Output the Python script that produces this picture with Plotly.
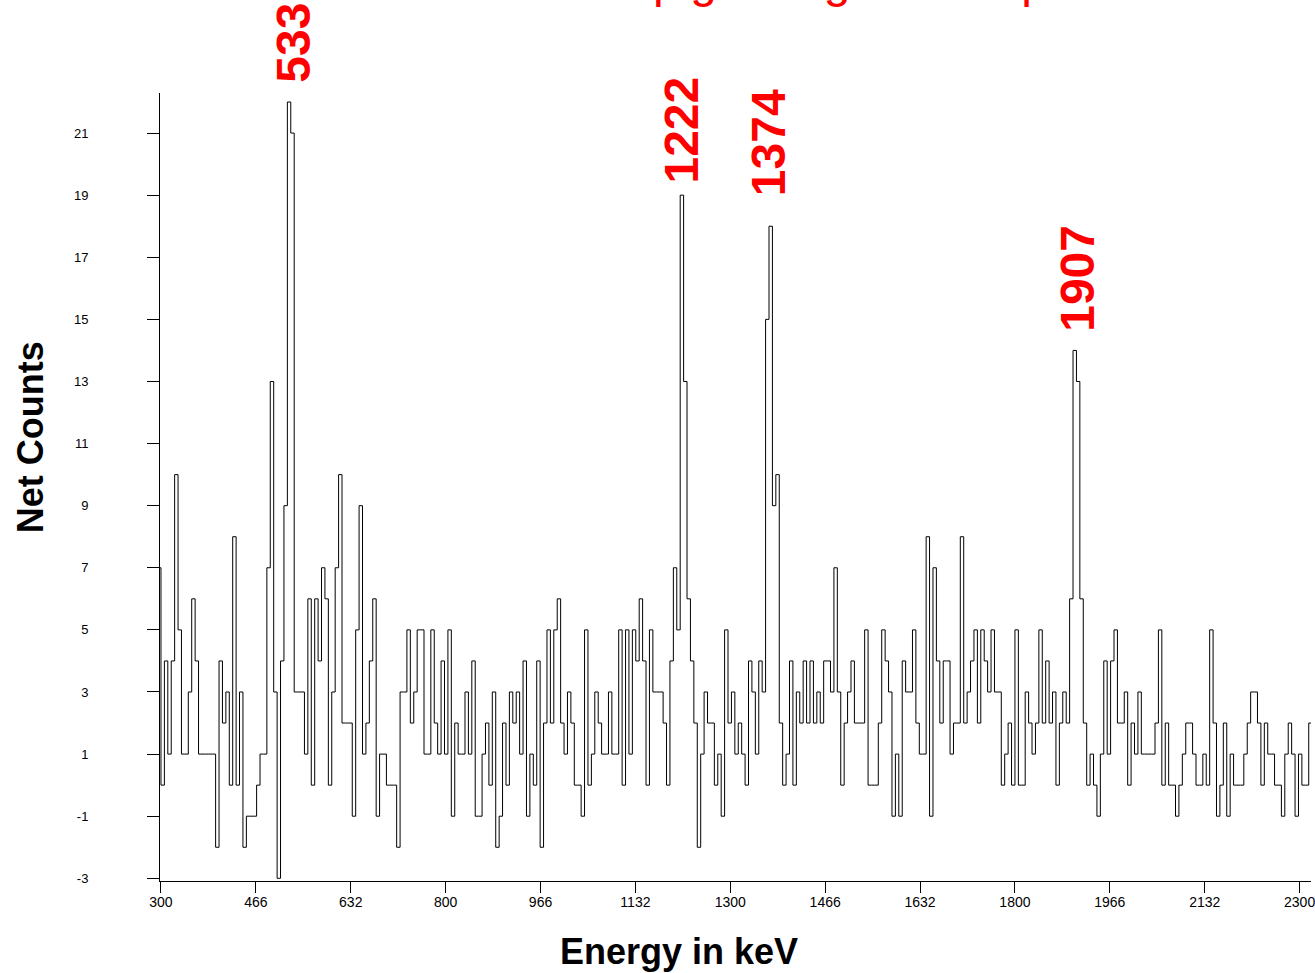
import numpy as np
import plotly.graph_objects as go

# ---------------- data ----------------
bin_width_kev = 6.0
first_bin_kev = 294.0

counts_pre = [7]
counts_300_534 = [0, 4, 1, 4, 10, 5, 1, 1, 3, 6, 4, 1, 1, 1, 1, 1, -2, 4, 2, 3,
                  0, 8, 0, 3, -2, -1, -1, -1, 0, 1, 1, 7, 13, 3, -3, 4, 9, 22, 21]
counts_534_1212 = [3, 3, 3, 1, 6, 0, 6, 4, 7, 6, 0, 3, 7, 10, 2, 2, 2, -1, 5, 9,
                   1, 2, 4, 6, -1, 1, 1, 0, 0, 0, -2, 3, 3, 5, 2, 3, 5, 5, 1, 1,
                   5, 2, 1, 4, 1, 5, -1, 2, 1, 1, 3, 1, 4, -1, -1, 1, 2, 0, 3, -2,
                   -1, 2, 0, 3, 2, 3, 1, 4, -1, 1, 0, 4, -2, 2, 5, 2, 5, 6, 2, 1,
                   3, 2, 0, 0, -1, 5, 0, 1, 3, 2, 1, 1, 3, 1, 1, 5, 0, 5, 1, 5,
                   4, 6, 4, 0, 5, 3, 3, 3, 2, 0, 4, 7, 5]
counts_1212_end = [19, 13, 6, 4, 2, -2, 1, 3, 2, 2, 0, 1, -1, 5, 2, 3, 1, 2, 1, 0,
                   4, 3, 1, 4, 3, 15, 18, 9, 10, 2, 0, 1, 4, 0, 3, 2, 4, 2, 4, 2,
                   3, 2, 4, 4, 3, 7, 3, 0, 2, 3, 4, 2, 2, 2, 5, 0, 0, 0, 2, 5,
                   4, 3, -1, 1, -1, 4, 3, 3, 5, 2, 1, 1, 8, -1, 7, 4, 2, 4, 4, 1,
                   2, 2, 8, 2, 3, 4, 5, 2, 5, 4, 3, 5, 3, 3, 0, 1, 2, 0, 5, 0,
                   0, 3, 2, 1, 2, 5, 2, 4, 2, 3, 0, 2, 3, 2, 6, 14, 13, 6, 2, 0,
                   1, 0, -1, 1, 4, 1, 4, 5, 2, 2, 3, 0, 2, 1, 3, 1, 1, 1, 1, 2,
                   5, 0, 2, 0, 0, -1, 0, 1, 2, 2, 1, 0, 0, 1, 0, 5, 2, -1, 0, 2,
                   -1, 1, 0, 0, 0, 1, 2, 3, 3, 2, 0, 2, 1, 1, 0, 0, -1, 1, 2, 1,
                   -1, 1, 0, 0, 2]

peak_energies = [533, 1222, 1374, 1907]
peak_labels = ["533", "1222", "1374", "1907"]

x_tick_values = [300 + i * 2000 / 12 for i in range(13)]
x_tick_labels = ["300", "466", "632", "800", "966", "1132", "1300", "1466",
                 "1632", "1800", "1966", "2132", "2300"]
y_tick_values = list(range(-3, 22, 2))
y_tick_labels = [str(v) for v in y_tick_values]

title_text = "pig iron gamma spectrum"
x_title = "Energy in keV"
y_title = "Net Counts"

# label placement tweaks (pixels) – styling only
label_gap_px = [17, 10, 28, 17]
label_dx_px = [-1, -4, -4, 2]

# ---------------- build figure ----------------
counts = np.array(counts_pre + counts_300_534 + counts_534_1212 + counts_1212_end, dtype=float)
edges = first_bin_kev + np.arange(len(counts) + 1) * bin_width_kev
step_y = np.append(counts, counts[-1])

fig = go.Figure()
fig.add_trace(go.Scatter(
    x=edges, y=step_y, mode="lines",
    line=dict(shape="hv", color="black", width=1),
    hoverinfo="skip", showlegend=False,
))

annotations = []
for e, lab, gap, dx in zip(peak_energies, peak_labels, label_gap_px, label_dx_px):
    window = (edges[:-1] >= e - 18) & (edges[:-1] <= e + 6)
    top = counts[window].max()
    annotations.append(dict(
        x=e, y=top, xref="x", yref="y", yshift=gap, xshift=dx, text=lab,
        showarrow=False, textangle=-90, xanchor="center", yanchor="bottom",
        font=dict(family="Liberation Sans", size=48, color="red", weight="bold"),
    ))

annotations.append(dict(
    x=0.4264, y=1.0, xref="paper", yref="paper", yanchor="bottom", xanchor="left",
    yshift=84, text=title_text, showarrow=False,
    font=dict(family="Liberation Sans", size=48, color="red"),
))
annotations.append(dict(
    x=0.4511, y=-0.0889, xref="paper", yref="paper", xanchor="center", yanchor="middle",
    text=x_title, showarrow=False,
    font=dict(family="Liberation Sans", size=36, color="black", weight="bold"),
))
annotations.append(dict(
    x=-0.1126, y=0.5637, xref="paper", yref="paper", xanchor="center", yanchor="middle",
    text=y_title, showarrow=False, textangle=-90,
    font=dict(family="Liberation Sans", size=36, color="black", weight="bold"),
))

fig.update_layout(
    width=1315, height=973,
    margin=dict(l=160, r=0, t=93, b=92, pad=0),
    paper_bgcolor="white", plot_bgcolor="white",
    annotations=annotations,
    showlegend=False,
    xaxis=dict(
        range=[298.3, 2320.0], showgrid=False, zeroline=False,
        showline=True, linecolor="black", linewidth=1,
        ticks="outside", ticklen=11, tickcolor="black", tickwidth=1,
        tickvals=x_tick_values, ticktext=x_tick_labels,
        ticklabeloverflow="allow", ticklabelstandoff=-3,
        tickfont=dict(family="Liberation Sans", size=14, color="black"),
    ),
    yaxis=dict(
        range=[-3.087, 22.29], showgrid=False, zeroline=False,
        showline=True, linecolor="black", linewidth=1,
        ticks="outside", ticklen=12, tickcolor="black", tickwidth=1,
        tickvals=y_tick_values, ticktext=y_tick_labels,
        ticklabelstandoff=56,
        tickfont=dict(family="Liberation Sans", size=13, color="black"),
    ),
)

fig.write_html(
    "out.html",
    config={"displayModeBar": False},
    post_script="document.body.style.margin='0';document.body.style.overflow='hidden';",
)
